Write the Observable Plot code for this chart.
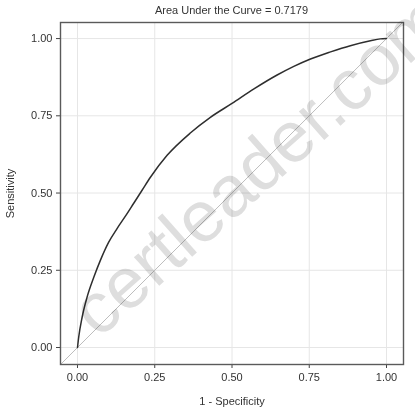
<!DOCTYPE html>
<html>
<head>
<meta charset="utf-8">
<script src="https://cdn.jsdelivr.net/npm/d3@7"></script>
<script src="https://cdn.jsdelivr.net/npm/@observablehq/plot@0.6"></script>
<style>
  html, body { margin: 0; padding: 0; background: #fff; }
  #wrap { position: relative; width: 415px; height: 412px; overflow: hidden; font-family: "Liberation Sans", Arial, sans-serif; }
  #title { height: 18px; line-height: 20px; margin-left: 60px; width: 343px; text-align: center; font-size: 11px; color: #333; }
  #wm { position: absolute; left: 0; top: 0; pointer-events: none; mix-blend-mode: multiply; }
</style>
</head>
<body>
<div id="wrap">
  <div id="title">Area Under the Curve = 0.7179</div>
  <div id="chart"></div>
  <svg id="wm" width="415" height="412"><text transform="translate(263,169) rotate(-41.5)" text-anchor="middle" dy="0.26em" font-family="Liberation Sans, Arial, sans-serif" font-size="72" fill="#dedede">certleader.com</text></svg>
</div>
<script>
const fpr = [0, 0.004, 0.015, 0.031, 0.053, 0.074, 0.101, 0.128, 0.155, 0.182, 0.209, 0.236, 0.29, 0.366, 0.43, 0.5, 0.571, 0.646, 0.70, 0.754, 0.819, 0.883, 0.948, 0.98, 1.0];
const tpr = [0, 0.034, 0.098, 0.163, 0.228, 0.282, 0.341, 0.385, 0.425, 0.467, 0.509, 0.551, 0.622, 0.695, 0.745, 0.79, 0.837, 0.882, 0.91, 0.934, 0.957, 0.977, 0.993, 0.999, 1.0];
const ticks = [0, 0.25, 0.5, 0.75, 1];
const xDomain = [-0.055, 1.055];
const yDomain = [-0.055, 1.052];

const roc = fpr.map((x, i) => ({x, y: tpr[i]}));
const diag = [{x1: xDomain[0], y1: xDomain[0], x2: xDomain[1], y2: xDomain[1]}];

const chart = Plot.plot({
  width: 415,
  height: 394,
  marginTop: 4,
  marginLeft: 60,
  marginRight: 12,
  marginBottom: 48,
  style: {fontFamily: "Liberation Sans, Arial, sans-serif", fontSize: "11px", color: "#333", background: "transparent"},
  x: {domain: xDomain},
  y: {domain: yDomain},
  marks: [
    Plot.gridX(ticks, {stroke: "#e6e6e6", strokeOpacity: 1}),
    Plot.gridY(ticks, {stroke: "#e6e6e6", strokeOpacity: 1}),
    Plot.link(diag, {x1: "x1", y1: "y1", x2: "x2", y2: "y2", stroke: "#bdbdbd", strokeWidth: 1, clip: true}),
    Plot.line(roc, {x: "x", y: "y", stroke: "#2e2e2e", strokeWidth: 1.5, curve: "monotone-x"}),
    Plot.axisX(ticks, {tickFormat: d3.format(".2f"), tickSize: 4, tickPadding: 5, stroke: "#444", label: "1 - Specificity", labelAnchor: "center", labelArrow: "none", labelOffset: 40}),
    Plot.axisY(ticks, {tickFormat: d3.format(".2f"), tickSize: 4, tickPadding: 4, stroke: "#444", label: "Sensitivity", labelAnchor: "center", labelArrow: "none", labelOffset: 54}),
    Plot.frame({stroke: "#5a5a5a", strokeWidth: 1.4})
  ]
});
document.getElementById("chart").appendChild(chart);
</script>
</body>
</html>
